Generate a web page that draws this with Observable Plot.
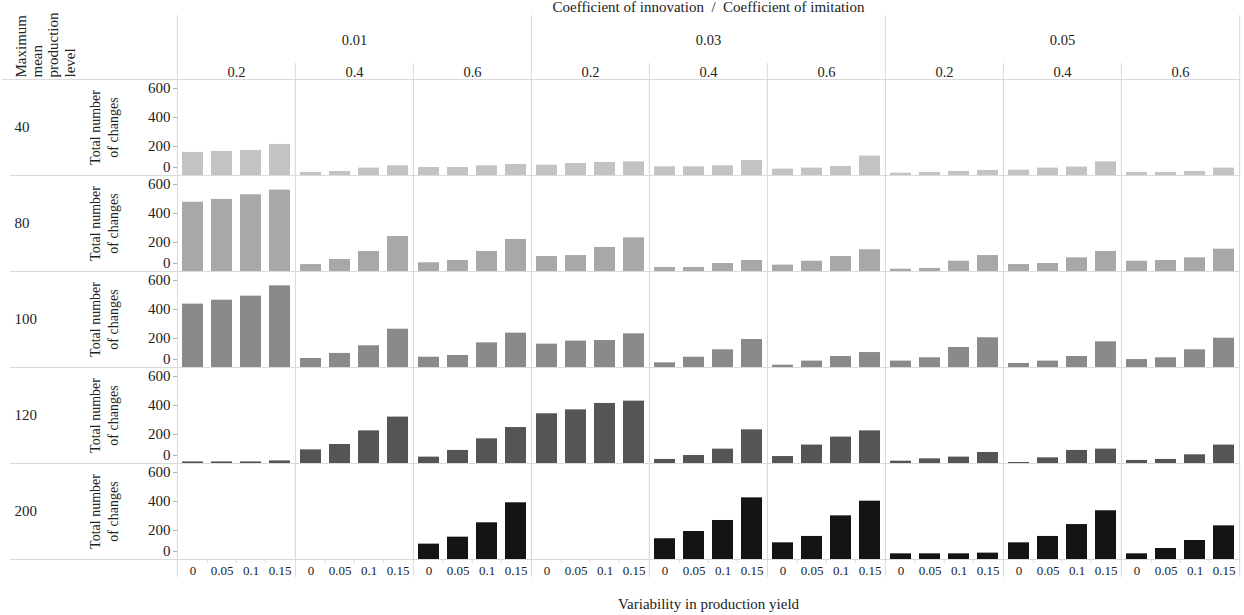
<!DOCTYPE html>
<html>
<head>
<meta charset="utf-8">
<script src="https://cdn.jsdelivr.net/npm/d3@7"></script>
<script src="https://cdn.jsdelivr.net/npm/@observablehq/plot@0.6"></script>
<style>
  html, body { margin: 0; padding: 0; background: #fff; }
  #chart svg { display: block; }
</style>
</head>
<body>
<div id="chart"></div>
<script>
// ---- Data ----
const innovation = ["0.01", "0.03", "0.05"];
const imitation = ["0.2", "0.4", "0.6"];
const levels = ["40", "80", "100", "120", "200"];
const variability = ["0", "0.05", "0.1", "0.15"];
const yTicks = [200, 400, 600];

// Each level: 9 cells (innovation x imitation), 4 values (variability 0, 0.05, 0.1, 0.15)
const level40 = [[159,166,172,214],[21,28,51,67],[55,55,67,76],[71,83,90,94],[60,60,67,103],[44,51,62,134],[16,21,28,35],[37,51,58,94],[21,21,28,51]];
const level80 = [[478,497,529,561],[48,83,138,241],[60,76,138,221],[103,110,166,232],[28,28,55,76],[44,71,103,150],[16,21,71,110],[48,55,94,138],[71,76,94,154]];
const level100 = [[437,464,492,563],[62,97,150,264],[71,83,170,237],[161,182,186,232],[32,71,122,193],[16,44,76,103],[44,67,138,205],[28,44,76,177],[55,67,122,202]];
const level120 = [[11,11,11,18],[94,131,225,320],[44,90,170,248],[343,370,414,430],[28,55,99,232],[48,127,182,225],[16,32,44,76],[7,39,90,99],[21,28,60,127]];
const level200 = [[null,null,null,null],[null,null,null,null],[106,154,253,391],[null,null,null,null],[143,193,269,425],[115,159,301,402],[39,39,39,44],[115,159,241,336],[39,76,131,232]];

const titleTop = "Coefficient of innovation  /  Coefficient of imitation";
const titleBottom = "Variability in production yield";
const rowTitle = "Maximum\nmean\nproduction\nlevel";
const yTitle = "Total number\nof changes";

// ---- Styles ----
const barColors = ["#c3c3c3", "#a8a8a8", "#8a8a8a", "#555555", "#141414"];
const grid = "#dadada";
const textColor = "#222";

// ---- Build tables ----
const series = [level40, level80, level100, level120, level200];
const cols = innovation.flatMap(a => imitation.map(b => a + "|" + b));
const rows = [];
levels.forEach((lv, li) => series[li].forEach((vals, ci) => vals.forEach((v, vi) =>
  rows.push({level: lv, col: cols[ci], variability: variability[vi], value: v}))));
const cells = levels.flatMap(lv => cols.map(c => ({level: lv, col: c})));
const leftCells = cells.filter(d => d.col === cols[0]);
const topCells = cells.filter(d => d.level === levels[0]);
const bottomCells = cells.filter(d => d.level === levels[levels.length - 1]);
const bandTicks = bottomCells.flatMap(c => variability.slice(1).map(v => ({...c, variability: v})));

// ---- Layout ----
const W = 1244, H = 615, ML = 175, MR = 4, MT = 79, MB = 56;
const colW = (W - ML - MR) / cols.length;
const rowH = (H - MT - MB) / levels.length;
const step = colW / variability.length;

const chart = Plot.plot({
  width: W, height: H,
  marginLeft: ML, marginRight: MR, marginTop: MT, marginBottom: MB,
  style: {fontFamily: "'Liberation Serif', 'Times New Roman', serif", fontSize: "14px", color: textColor, background: "#fff"},
  fx: {domain: cols, padding: 0, axis: null},
  fy: {domain: levels, padding: 0, axis: null},
  x: {domain: variability, paddingInner: 0.29, paddingOuter: 0.145, axis: null},
  y: {domain: [0, 662], axis: null},
  color: {domain: levels, range: barColors},
  marks: [
    Plot.frame({stroke: grid}),
    // row lines extending into the left header
    Plot.ruleY(leftCells, {fx: "col", fy: "level", y: () => 0, insetLeft: -(ML - 8), stroke: grid}),
    Plot.ruleY(leftCells.slice(0, 1), {fx: "col", fy: "level", y: () => 662, insetLeft: -ML, stroke: grid}),
    // header separators
    Plot.ruleX(topCells.filter(d => d.col.endsWith("|0.2")), {fx: "col", fy: "level", x: null, dx: -colW / 2, insetTop: -64, stroke: grid}),
    Plot.ruleX(topCells.filter(d => !d.col.endsWith("|0.2")), {fx: "col", fy: "level", x: null, dx: -colW / 2, insetTop: -16, stroke: grid}),
    Plot.ruleX(topCells.slice(-1), {fx: "col", fy: "level", x: null, dx: colW / 2, insetTop: -64, stroke: grid}),
    // bottom separators
    Plot.ruleX(bottomCells, {fx: "col", fy: "level", x: null, dx: -colW / 2, insetBottom: -18, stroke: grid}),
    Plot.ruleX(bottomCells.slice(-1), {fx: "col", fy: "level", x: null, dx: colW / 2, insetBottom: -18, stroke: grid}),
    Plot.ruleX(bandTicks, {fx: "col", fy: "level", x: "variability", dx: -step / 2, insetTop: rowH, insetBottom: -4, stroke: grid}),
    // bars
    Plot.barY(rows, {fx: "col", fy: "level", x: "variability", y: "value", fill: "level"}),
    // axes
    Plot.axisX({facetAnchor: "bottom", tickSize: 0, tickPadding: 6, label: null, fontSize: 13}),
    Plot.axisY(yTicks, {facetAnchor: "left", tickSize: 4, tickPadding: 3, stroke: "#b0b0b0", label: null, fontSize: 15}),
    Plot.axisY([0], {facetAnchor: "left", tickSize: 4, tickPadding: 3, stroke: "#b0b0b0", label: null, fontSize: 15, dy: -8}),
    // row header texts
    Plot.text(leftCells, {fx: "col", fy: "level", text: "level", frameAnchor: "left", dx: -(ML - 12), textAnchor: "start", fontSize: 15}),
    Plot.text(leftCells, {fx: "col", fy: "level", text: () => yTitle, frameAnchor: "left", dx: -(ML - 101), rotate: -90, textAnchor: "middle", lineHeight: 1.3, fontSize: 14}),
    Plot.text(topCells.slice(0, 1), {fx: "col", fy: "level", text: () => rowTitle, frameAnchor: "top-left", dx: -(ML - 12), dy: -2, rotate: -90, textAnchor: "start", lineAnchor: "top", lineHeight: 1.08, fontSize: 15}),
    // column headers
    Plot.text(topCells, {fx: "col", fy: "level", text: d => d.col.split("|")[1], frameAnchor: "top", lineAnchor: "middle", dy: -7, fontSize: 14.5}),
    Plot.text(topCells.filter(d => d.col.endsWith("|0.4")), {fx: "col", fy: "level", text: d => d.col.split("|")[0], frameAnchor: "top", lineAnchor: "middle", dy: -39, fontSize: 14.5}),
    Plot.text(topCells.filter(d => d.col === "0.03|0.4"), {fx: "col", fy: "level", text: () => titleTop, frameAnchor: "top", lineAnchor: "middle", dy: -72, fontSize: 15}),
    Plot.text(bottomCells.filter(d => d.col === "0.03|0.4"), {fx: "col", fy: "level", text: () => titleBottom, frameAnchor: "bottom", lineAnchor: "middle", dy: 45, fontSize: 15})
  ]
});
document.getElementById("chart").appendChild(chart);
</script>
</body>
</html>
